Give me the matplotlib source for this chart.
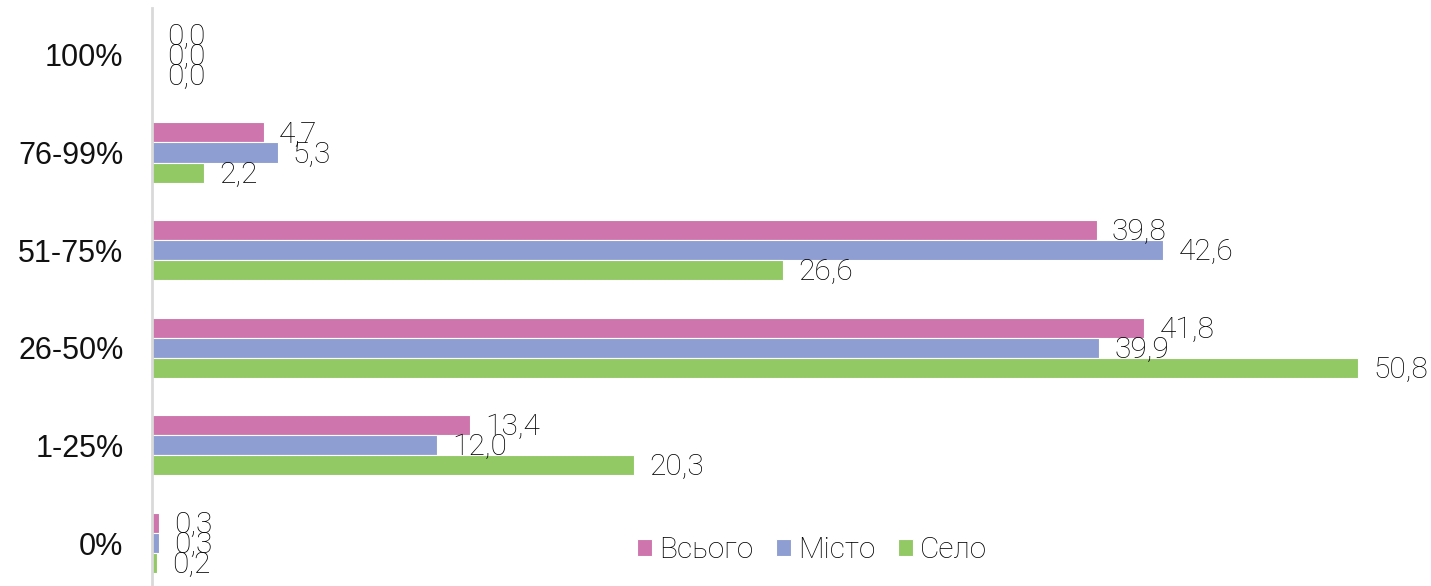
import matplotlib
matplotlib.use("Agg")
import matplotlib.pyplot as plt
import numpy as np

categories = ["0%", "1-25%", "26-50%", "51-75%", "76-99%", "100%"]
series_names = ["Всього", "Місто", "Село"]
vsogo = [0.3, 13.4, 41.8, 39.8, 4.7, 0.0]
misto = [0.3, 12.0, 39.9, 42.6, 5.3, 0.0]
selo = [0.2, 20.3, 50.8, 26.6, 2.2, 0.0]
colors = ["#CE75AD", "#8E9ED2", "#92C965"]

W, H = 1431, 586
fig = plt.figure(figsize=(W / 100, H / 100), dpi=100)
ax_left, ax_right, ax_top, ax_bottom = 152, 1431, 8, 586
ax = fig.add_axes([ax_left / W, 1 - ax_bottom / H, (ax_right - ax_left) / W, (ax_bottom - ax_top) / H])

px_per_unit = 23.74
ax.set_xlim(0, (ax_right - ax_left) / px_per_unit)
ax.set_ylim(-0.44, 5.48)

y = np.arange(len(categories))
h = 0.205
offsets = [h, 0, -h]
data = [vsogo, misto, selo]
label_font = dict(family="Roboto", weight="light", size=21.5, color="#000000")
for vals, off, col, name in zip(data, offsets, colors, series_names):
    bars = ax.barh(y + off, vals, height=h, color=col, edgecolor="white", linewidth=0.8, label=name)
    for b, v in zip(bars, vals):
        ax.annotate(f"{v:.1f}".replace(".", ","), xy=(b.get_width(), b.get_y() + b.get_height() / 2),
                    xytext=(15, -2), textcoords="offset pixels", va="center", ha="left", **label_font)

ax.set_yticks(y)
ax.set_yticklabels(categories, fontfamily="Liberation Sans", fontsize=22, color="#111111")
ax.tick_params(axis="y", length=0, pad=20.5)
ax.set_xticks([])
for s in ["top", "right", "bottom"]:
    ax.spines[s].set_visible(False)
ax.spines["left"].set_color("#D9D9D9")
ax.spines["left"].set_linewidth(2)

leg = fig.legend(loc="center", bbox_to_anchor=(812 / W, 1 - 550 / H), ncol=3, frameon=False,
                 prop=dict(family="Roboto", weight="light", size=21.5),
                 handlelength=0.5, handleheight=0.5, handletextpad=0.25, columnspacing=0.75)
for t in leg.get_texts():
    t.set_color("#000000")

fig.savefig("out.png", dpi=100)
